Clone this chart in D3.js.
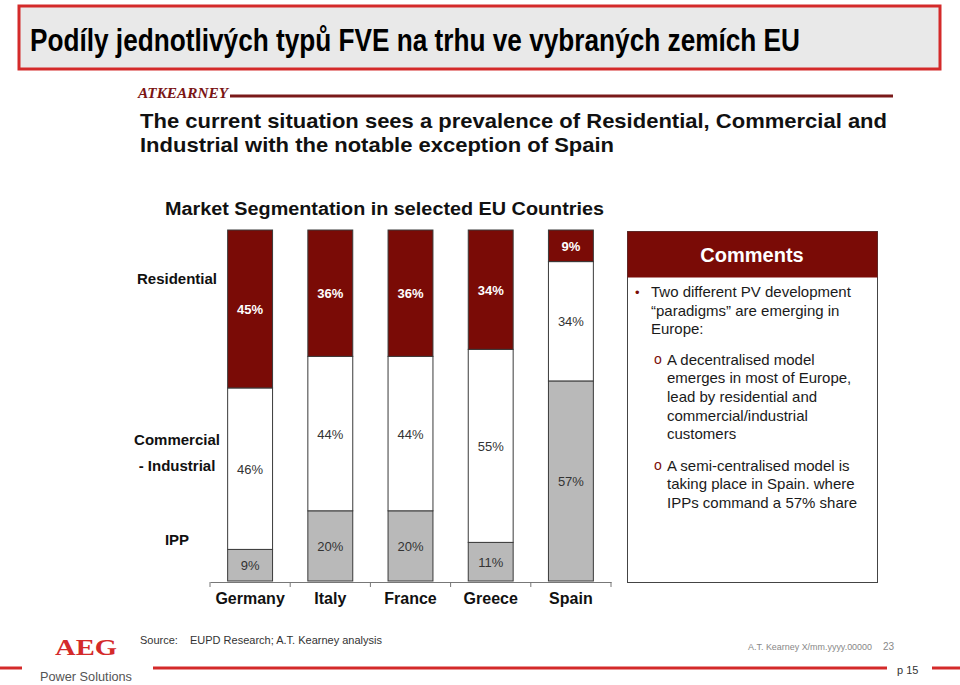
<!DOCTYPE html>
<html><head><meta charset="utf-8">
<script src="https://cdn.jsdelivr.net/npm/d3@7"></script>
<style>
body{margin:0;background:#fff;}
svg{display:block;font-family:"Liberation Sans",Arial,sans-serif;}
</style></head>
<body>
<svg id="c" width="960" height="685"></svg>
<script>
const countries = ["Germany","Italy","France","Greece","Spain"];
const segments = ["IPP","Commercial","Residential"];
const ipp = [9,20,20,11,57];
const commercial = [46,44,44,55,34];
const residential = [45,36,36,34,9];
const rowLabels = [["Residential"],["Commercial","- Industrial"],["IPP"]];
const rowLabelLevels = [86, 36.5, 11.7];
const comments = [
  {level:1, lines:["Two different  PV development","\u201cparadigms\u201d are emerging in","Europe:"]},
  {level:2, lines:["A decentralised model","emerges in most of Europe,","lead by residential and","commercial/industrial","customers"]},
  {level:2, lines:["A semi-centralised model is","taking place in Spain. where","IPPs command a 57% share"]}
];

const RED = "#7a0b06";
const GRAY = "#b9b9b9";
const svg = d3.select("#c");

// Title box
svg.append("rect").attr("x",19).attr("y",6).attr("width",921).attr("height",63)
  .attr("fill","#e9e9e9").attr("stroke","#d42a2a").attr("stroke-width",3);
svg.append("text").attr("x",30).attr("y",51).attr("font-size",31).attr("font-weight","bold")
  .attr("textLength",770).attr("lengthAdjust","spacingAndGlyphs").attr("fill","#000")
  .text("Podíly jednotlivých typů FVE na trhu ve vybraných zemích EU");

// AT Kearney header
svg.append("text").attr("x",138).attr("y",98).attr("font-family","'Liberation Serif',serif")
  .attr("font-style","italic").attr("font-weight","bold").attr("font-size",15)
  .attr("textLength",90).attr("lengthAdjust","spacingAndGlyphs").attr("fill","#7a1414").text("ATKEARNEY");
svg.append("line").attr("x1",230).attr("x2",893).attr("y1",96).attr("y2",96)
  .attr("stroke","#7a1a1a").attr("stroke-width",3);
svg.append("text").attr("x",140).attr("y",128).attr("font-size",21).attr("font-weight","bold")
  .attr("textLength",747).attr("lengthAdjust","spacingAndGlyphs").attr("fill","#111")
  .text("The current situation sees a prevalence of Residential, Commercial and");
svg.append("text").attr("x",140).attr("y",152).attr("font-size",21).attr("font-weight","bold")
  .attr("textLength",474).attr("lengthAdjust","spacingAndGlyphs").attr("fill","#111")
  .text("Industrial with the notable exception of Spain");

// Chart title
svg.append("text").attr("x",165).attr("y",215).attr("font-size",18).attr("font-weight","bold")
  .attr("textLength",439).attr("lengthAdjust","spacingAndGlyphs").attr("fill","#111")
  .text("Market Segmentation in selected EU Countries");

// Scales
const x = d3.scaleBand().domain(countries).range([210,611]).paddingInner(0.44).paddingOuter(0.22);
const y = d3.scaleLinear().domain([0,100]).range([581,230]);
const color = d3.scaleOrdinal().domain(segments).range([GRAY,"#ffffff",RED]);
const textColor = d3.scaleOrdinal().domain(segments).range(["#333","#333","#fff"]);

const table = countries.map((c,i)=>({country:c, IPP:ipp[i], Commercial:commercial[i], Residential:residential[i]}));
const series = d3.stack().keys(segments)(table);

const g = svg.append("g");
series.forEach(s=>{
  const key = s.key;
  g.selectAll(null).data(s).join("rect")
    .attr("x",d=>x(d.data.country)).attr("width",x.bandwidth())
    .attr("y",d=>y(d[1])).attr("height",d=>y(d[0])-y(d[1]))
    .attr("fill",color(key)).attr("stroke","#3a3a3a").attr("stroke-width",1);
  g.selectAll(null).data(s).join("text")
    .attr("x",d=>x(d.data.country)+x.bandwidth()/2)
    .attr("y",d=>(y(d[0])+y(d[1]))/2+5)
    .attr("text-anchor","middle").attr("font-size",13)
    .attr("font-weight",key==="Residential"?"bold":"normal")
    .attr("fill",textColor(key))
    .text(d=>(d[1]-d[0])+"%");
});

// Axis
const axis = svg.append("g").attr("transform","translate(0,582)")
  .call(d3.axisBottom(x).tickSize(0).tickPadding(8));
axis.select(".domain").attr("stroke","#777");
axis.selectAll("text").attr("font-size",16).attr("font-weight","bold").attr("fill","#111")
  .attr("font-family","'Liberation Sans',Arial,sans-serif").attr("dy","0.85em");
const bounds = countries.map(c=>x(c)-x.step()*x.paddingInner()/2);
bounds[0]=210; bounds.push(611);
axis.selectAll("line.b").data(bounds).join("line").attr("class","b")
  .attr("x1",d=>d).attr("x2",d=>d).attr("y1",0).attr("y2",5).attr("stroke","#777");

// Row labels
rowLabels.forEach((lines,i)=>{
  const cy = y(rowLabelLevels[i]);
  lines.forEach((t,j)=>{
    svg.append("text").attr("x",177).attr("y",cy+5+(j-(lines.length-1)/2)*26)
      .attr("text-anchor","middle").attr("font-size",15).attr("font-weight","bold").attr("fill","#111").text(t);
  });
});

// Comments panel
svg.append("rect").attr("x",627.5).attr("y",231.5).attr("width",250).attr("height",351)
  .attr("fill","#fff").attr("stroke","#444").attr("stroke-width",1);
svg.append("rect").attr("x",627.5).attr("y",231.5).attr("width",250).attr("height",46).attr("fill",RED);
svg.append("text").attr("x",752).attr("y",262).attr("text-anchor","middle").attr("font-size",20)
  .attr("font-weight","bold").attr("fill","#fff").text("Comments");
let ly = 297;
comments.forEach((c,ci)=>{
  if(ci>0) ly += (ci===1?12:13);
  const tx = c.level===1?651:667;
  svg.append("text").attr("x",c.level===1?635:654).attr("y",ly-(c.level===1?0:1))
    .attr("font-size",c.level===1?13:14).attr("fill",RED).text(c.level===1?"\u2022":"o");
  c.lines.forEach(t=>{
    svg.append("text").attr("x",tx).attr("y",ly).attr("font-size",15).attr("fill","#1a1a1a").text(t);
    ly += 18.6;
  });
});

// Footer
svg.append("text").attr("x",55).attr("y",655).attr("font-family","'Liberation Serif',serif")
  .attr("font-weight","bold").attr("font-size",24).attr("textLength",62).attr("lengthAdjust","spacingAndGlyphs")
  .attr("fill","#d42a2a").text("AEG");
svg.append("text").attr("x",40).attr("y",681).attr("font-size",13)
  .attr("textLength",92).attr("lengthAdjust","spacingAndGlyphs").attr("fill","#555").text("Power Solutions");
[[0,22],[153,887],[932,960]].forEach(s=>{
  svg.append("line").attr("x1",s[0]).attr("x2",s[1]).attr("y1",668).attr("y2",668)
    .attr("stroke","#d42a2a").attr("stroke-width",3);
});
svg.append("text").attr("x",140).attr("y",644).attr("font-size",11).attr("fill","#333").text("Source:");
svg.append("text").attr("x",190).attr("y",644).attr("font-size",11).attr("fill","#333").text("EUPD Research; A.T. Kearney analysis");
svg.append("text").attr("x",748).attr("y",650).attr("font-size",9).attr("fill","#888")
  .attr("textLength",124).attr("lengthAdjust","spacingAndGlyphs").text("A.T. Kearney X/mm.yyyy.00000");
svg.append("text").attr("x",883).attr("y",650).attr("font-size",10).attr("fill","#888").text("23");
svg.append("text").attr("x",897).attr("y",674).attr("font-size",11).attr("fill","#333").text("p 15");
</script>
</body></html>
